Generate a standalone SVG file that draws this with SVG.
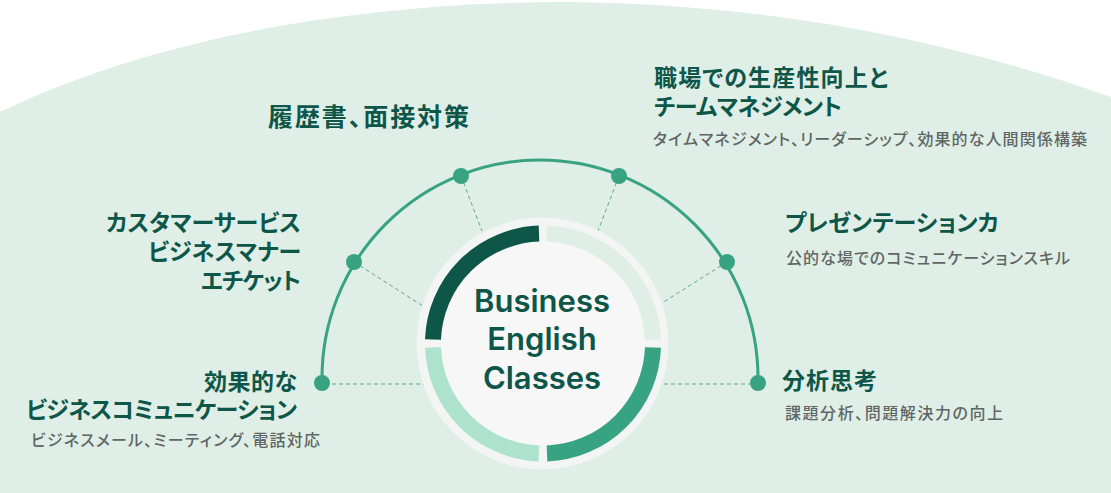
<svg xmlns="http://www.w3.org/2000/svg" width="1111" height="493" viewBox="0 0 1111 493">
<style>
.h{font-family:"Noto Sans CJK JP","Noto Sans",sans-serif;font-weight:700;font-size:23px;fill:#0d5648;font-feature-settings:"palt"}
.s{font-family:"Noto Sans CJK JP","Noto Sans",sans-serif;font-weight:500;font-size:16px;fill:#5f6664;font-feature-settings:"palt"}
.c{font-family:Inter,"Liberation Sans",sans-serif;font-weight:600;font-size:31px;fill:#0d5648;text-anchor:middle}
.d{fill:none;stroke:#5fa78d;stroke-width:1;stroke-dasharray:4 3}
.r{fill:none;stroke-width:16}
.n{fill:#37a382}
</style>
<rect width="1111" height="493" fill="#fff"/>
<path d="M0 112C150 40 350 2 567 2C770 4 950 40 1111 97V493H0Z" fill="#dfeee6"/>
<g id="connectors">
<path d="M322 383V378A218 218 0 0 1 758 378V383" fill="none" stroke="#37a382" stroke-width="3"/>
<path class="d" d="M332 384H424M354 262L423 306M461 176L482 231M619 176L598 231M727 262L662 303M664 384H750"/>
</g>
<g id="center">
<circle cx="542.5" cy="343.5" r="126" fill="#f3f5f5"/>
<circle cx="542.5" cy="343.5" r="102" fill="#f7f7f8"/>
<path class="r" stroke="#0d5648" d="M433 339.5A110 110 0 0 1 539 233.6"/>
<path class="r" stroke="#dfeee6" d="M547 233.6A110 110 0 0 1 653 339.5"/>
<path class="r" stroke="#37a382" d="M653 347.5A110 110 0 0 1 547 453.4"/>
<path class="r" stroke="#ade3cc" d="M539 453.4A110 110 0 0 1 433 347.5"/>
<text class="c" x="542" y="312">Business</text>
<text class="c" x="542" y="350">English</text>
<text class="c" x="542" y="389">Classes</text>
</g>
<g id="node-resume"><circle class="n" cx="461" cy="176" r="8"/><text class="h" x="268" y="126" textLength="201" style="font-size:25px">履歴書、面接対策</text></g>
<g id="node-productivity"><circle class="n" cx="619" cy="176" r="8"/>
<text class="h" x="654" y="86" textLength="234">職場での生産性向上と</text>
<text class="h" x="654" y="115" textLength="188">チームマネジメント</text>
<text class="s" x="653" y="145" textLength="434">タイムマネジメント、リーダーシップ、効果的な人間関係構築</text></g>
<g id="node-service"><circle class="n" cx="354" cy="262" r="8"/>
<text class="h" x="106" y="231" textLength="195">カスタマーサービス</text>
<text class="h" x="148" y="260" textLength="153">ビジネスマナー</text>
<text class="h" x="201" y="289" textLength="100">エチケット</text></g>
<g id="node-presentation"><circle class="n" cx="727" cy="262" r="8"/>
<text class="h" x="785" y="231" textLength="214">プレゼンテーションカ</text>
<text class="s" x="786" y="264" textLength="284">公的な場でのコミュニケーションスキル</text></g>
<g id="node-communication"><circle class="n" cx="322" cy="383" r="8"/>
<text class="h" x="204" y="390" textLength="93">効果的な</text>
<text class="h" x="26" y="418" textLength="271">ビジネスコミュニケーション</text>
<text class="s" x="31" y="446" textLength="289">ビジネスメール、ミーティング、電話対応</text></g>
<g id="node-analysis"><circle class="n" cx="758" cy="383" r="8"/>
<text class="h" x="782" y="389" textLength="95">分析思考</text>
<text class="s" x="785" y="419" textLength="218">課題分析、問題解決力の向上</text></g>
</svg>
